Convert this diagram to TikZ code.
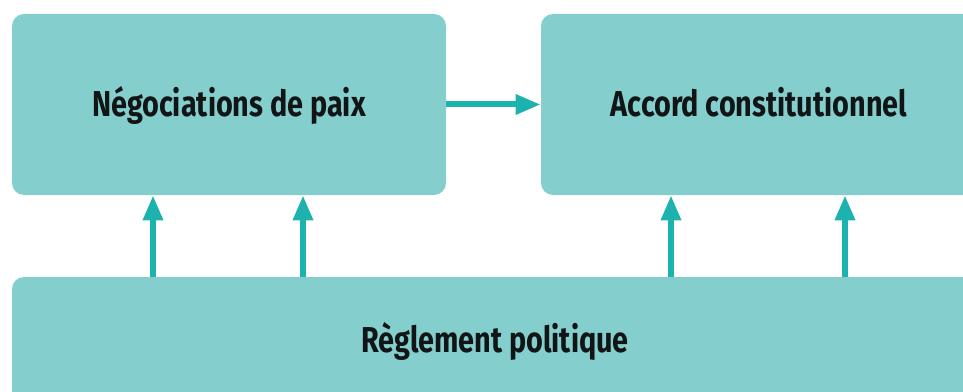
\documentclass[tikz,border=0pt]{standalone}
\usepackage{fontspec}
\setmainfont[FakeStretch=0.8]{Fira Sans}
\usetikzlibrary{arrows.meta,positioning}
\definecolor{pane}{HTML}{84CFCD}
\definecolor{teal}{HTML}{1CB3AF}
\definecolor{ink}{HTML}{111515}

\tikzset{
  panel/.style={fill=pane,rounded corners=9pt,inner sep=0pt,text=ink,
    text height=18.6pt,text depth=0pt,
    font=\fontsize{27}{30}\selectfont\bfseries},
  flow/.style={draw=teal,line width=4.5pt,
    -{Triangle[length=18.75pt,width=14.25pt]}}
}

\begin{document}
\begin{tikzpicture}[x=0.75pt,y=-0.75pt]
  \useasboundingbox (0,0) rectangle (963,392);
  \clip (0,0) rectangle (963,392);
  % top row
  \node[panel,minimum width=325.5pt,minimum height=135.75pt] (nego) at (229,104.5)
    {Négociations de paix};
  \node[panel,minimum width=327pt,minimum height=135.75pt] (accord) at (759,104.5)
    {Accord constitutionnel};
  % base
  \node[panel,minimum width=724.5pt,minimum height=94.5pt] (regl) at (495,340)
    {Règlement politique};
  % connectors
  \draw[flow] (nego.east) -- (accord.west);
  \foreach \x/\t in {153/nego,303/nego,671/accord,845/accord}{
    \path (\x,0) coordinate (k);
    \draw[flow] (regl.north -| k) -- (\t.south -| k);
  }
\end{tikzpicture}
\end{document}
